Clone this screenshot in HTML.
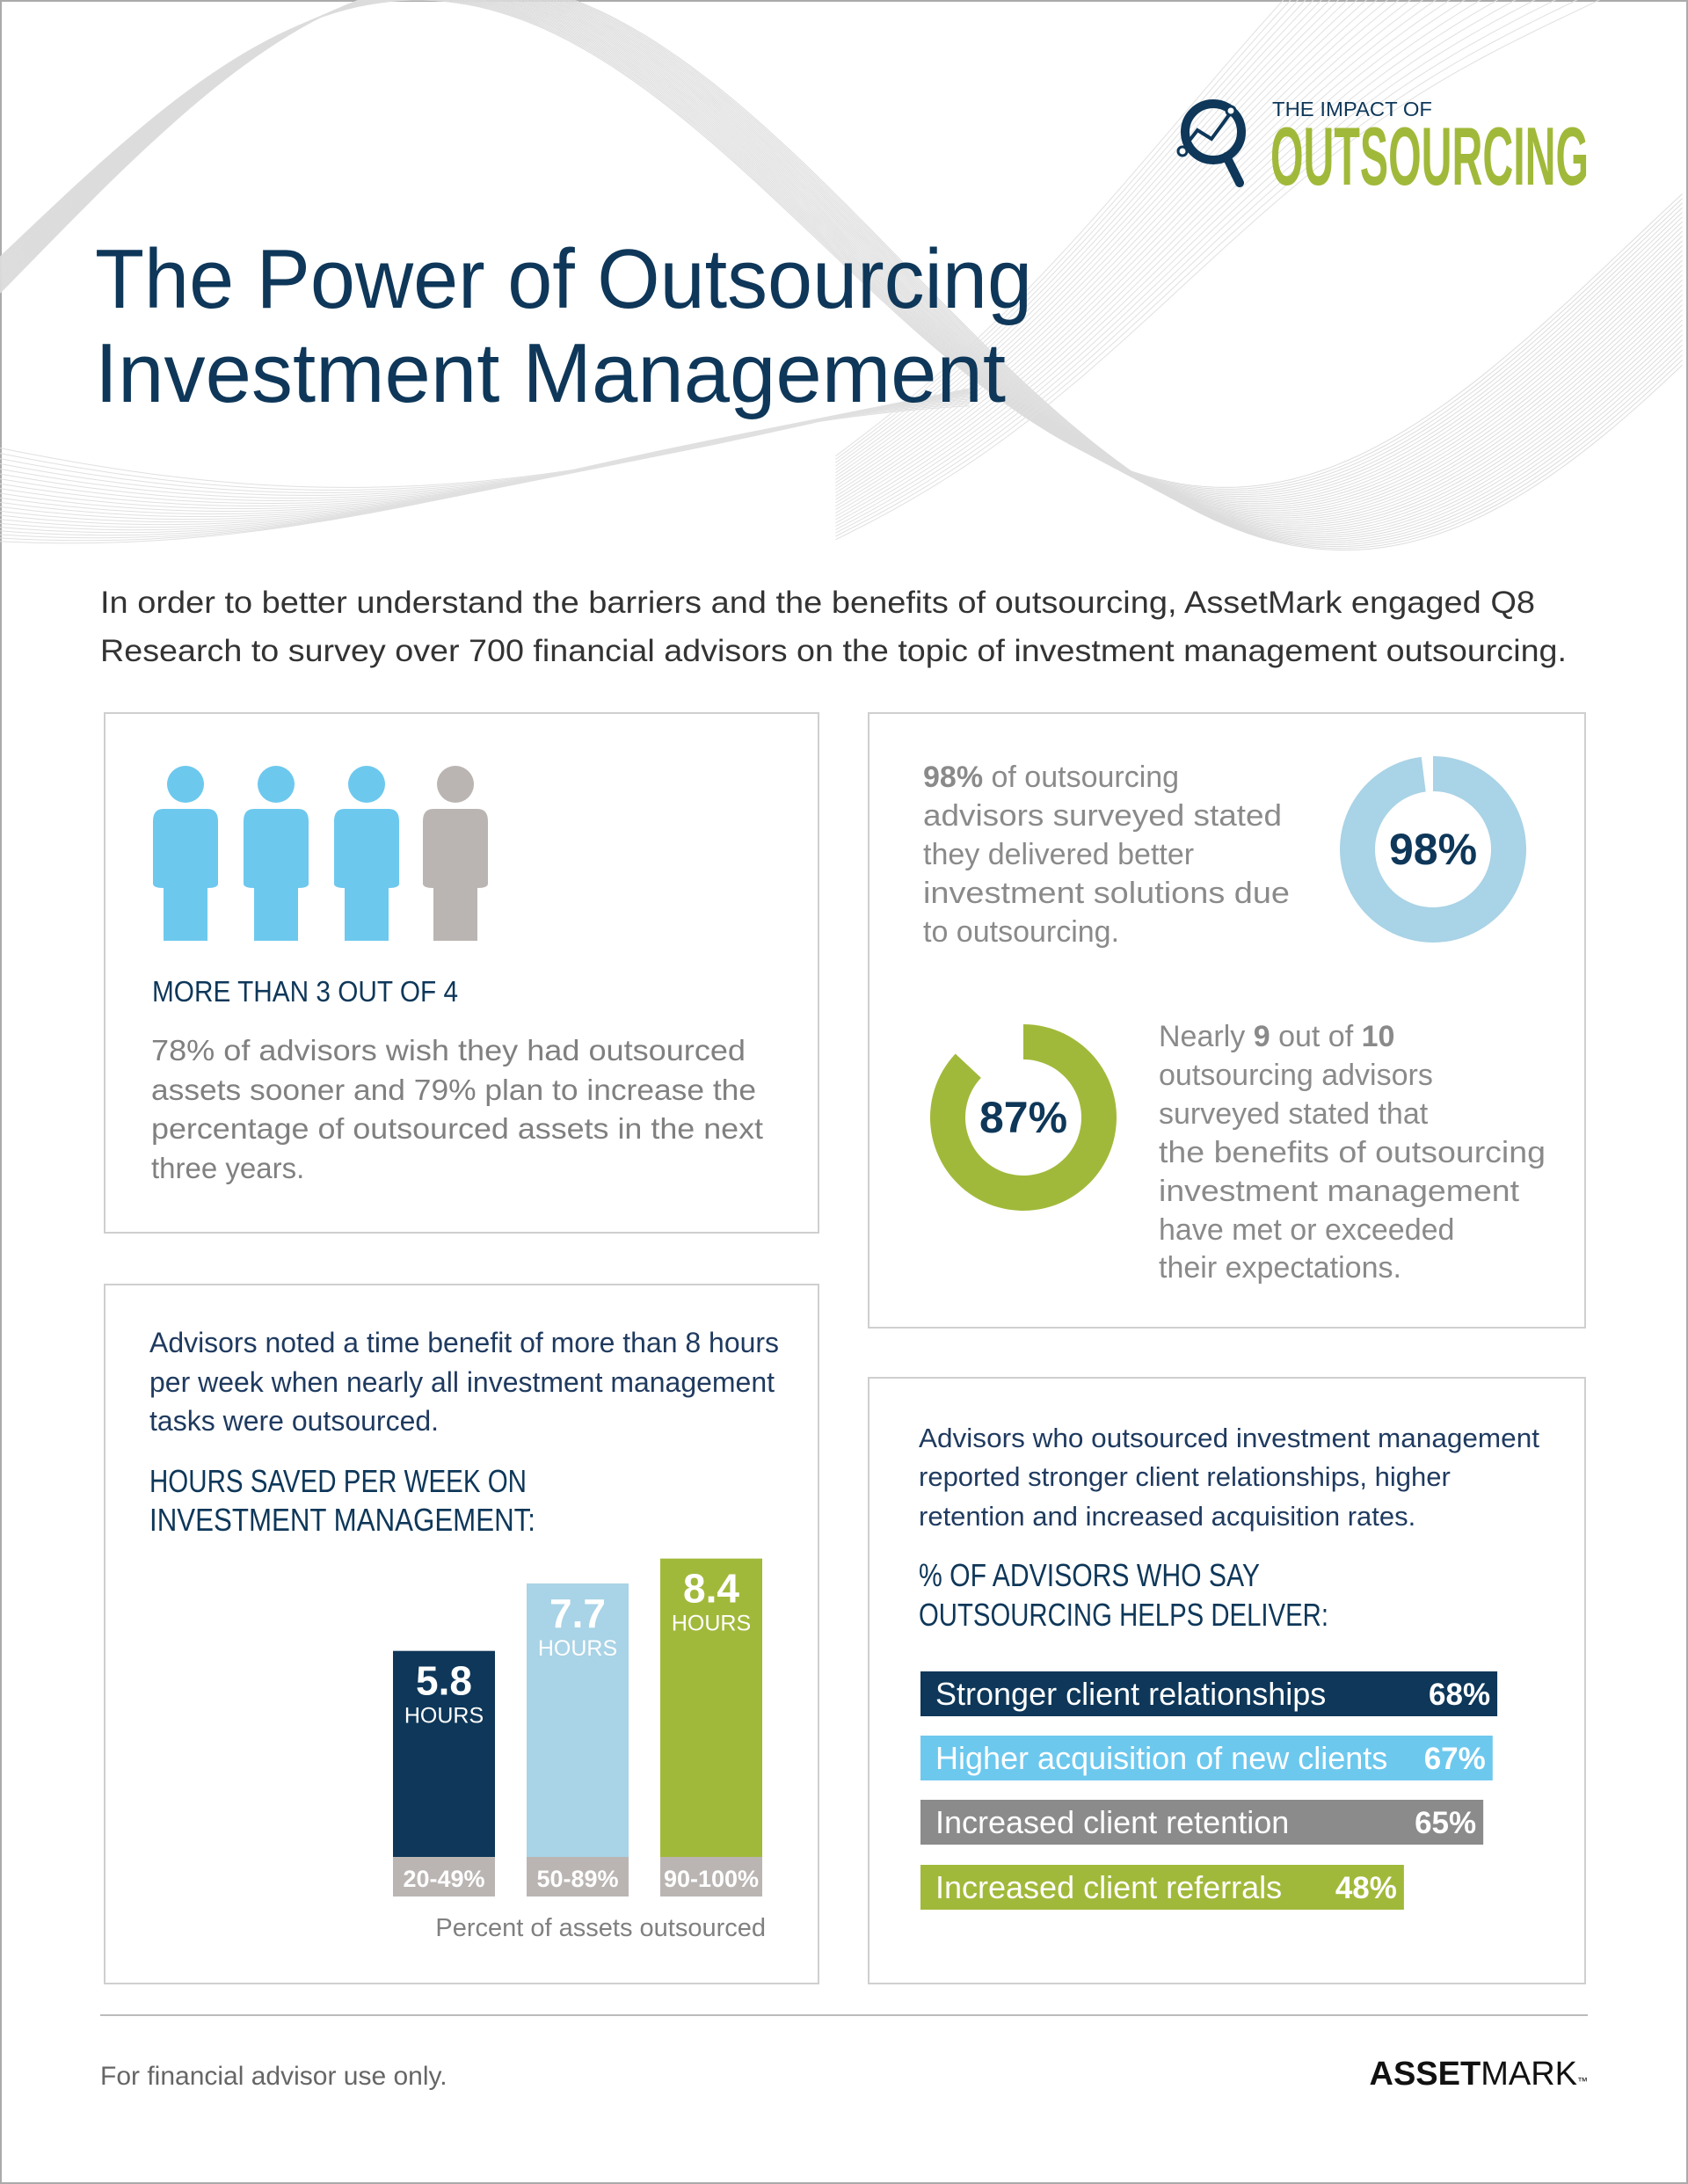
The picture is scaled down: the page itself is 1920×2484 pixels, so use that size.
<!DOCTYPE html>
<html><head><meta charset="utf-8">
<style>
html,body{margin:0;padding:0;background:#fff;}
svg{display:block;}
text{font-family:"Liberation Sans",sans-serif;}
</style></head>
<body>
<svg id="page" width="1920" height="2484" viewBox="0 0 1920 2484" xmlns="http://www.w3.org/2000/svg">
<rect x="1" y="1" width="1918" height="2482" fill="#fff" stroke="#aaa" stroke-width="2"/>
<g id="waves"></g>

<!-- logo -->
<g>
  <circle cx="1380" cy="150" r="32" fill="none" stroke="#0e3759" stroke-width="10"/>
  <line x1="1395" y1="178" x2="1410" y2="208" stroke="#0e3759" stroke-width="10" stroke-linecap="round"/>
  <polyline points="1345,170 1362,148 1378,158 1400,128" fill="none" stroke="#0e3759" stroke-width="4"/>
  <circle cx="1345" cy="172" r="5" fill="#fff" stroke="#0e3759" stroke-width="3"/>
  <circle cx="1400" cy="126" r="5" fill="#fff" stroke="#0e3759" stroke-width="3"/>
  <text x="1447" y="132" font-size="23" fill="#0e3759" textLength="182" lengthAdjust="spacingAndGlyphs">THE IMPACT OF</text>
  <text x="1445" y="210" font-size="94" font-weight="bold" fill="#a1b93a" textLength="362" lengthAdjust="spacingAndGlyphs">OUTSOURCING</text>
</g>

<text x="108" y="350" font-size="96" fill="#0e3759" textLength="1066" lengthAdjust="spacingAndGlyphs">The Power of Outsourcing</text>
<text x="108" y="457" font-size="96" fill="#0e3759" textLength="1036" lengthAdjust="spacingAndGlyphs">Investment Management</text>

<g fill="#333" font-size="35">
<text x="114" y="697" textLength="1632" lengthAdjust="spacingAndGlyphs">In order to better understand the barriers and the benefits of outsourcing, AssetMark engaged Q8</text>
<text x="114" y="752" textLength="1668" lengthAdjust="spacingAndGlyphs">Research to survey over 700 financial advisors on the topic of investment management outsourcing.</text>
</g>

<!-- boxes -->
<rect x="119" y="811" width="812" height="591" fill="#fff" stroke="#cfcfcf" stroke-width="2"/>
<rect x="988" y="811" width="815" height="699" fill="#fff" stroke="#cfcfcf" stroke-width="2"/>
<rect x="119" y="1461" width="812" height="795" fill="#fff" stroke="#cfcfcf" stroke-width="2"/>
<rect x="988" y="1567" width="815" height="689" fill="#fff" stroke="#cfcfcf" stroke-width="2"/>

<defs>
 <clipPath id="halfL"><rect x="480" y="860" width="37" height="220"/></clipPath>
 <g id="person">
  <circle cx="37" cy="32" r="21"/>
  <path d="M12,60 Q0,60 0,74 L0,145 Q0,150 12,150 L12,210 L62,210 L62,150 Q74,150 74,145 L74,74 Q74,60 62,60 Z"/>
 </g>
</defs>
<g>
 <use href="#person" x="174" y="860" fill="#6dc8ee"/>
 <use href="#person" x="277" y="860" fill="#6dc8ee"/>
 <use href="#person" x="380" y="860" fill="#6dc8ee"/>
 <use href="#person" x="481" y="860" fill="#bab5b3"/>
 <use href="#person" x="481" y="860" fill="#6dc8ee" clip-path="url(#halfL)"/>
</g>
<text x="173" y="1139" font-size="33" fill="#0e3759" textLength="348" lengthAdjust="spacingAndGlyphs">MORE THAN 3 OUT OF 4</text>
<g font-size="33" fill="#808080">
<text x="172" y="1206" textLength="676" lengthAdjust="spacingAndGlyphs">78% of advisors wish they had outsourced</text>
<text x="172" y="1251" textLength="688" lengthAdjust="spacingAndGlyphs">assets sooner and 79% plan to increase the</text>
<text x="172" y="1295" textLength="696" lengthAdjust="spacingAndGlyphs">percentage of outsourced assets in the next</text>
<text x="172" y="1340">three years.</text>
</g>

<!-- donut text -->
<g font-size="34" fill="#8a8a8a">
<text x="1050" y="895"><tspan font-weight="bold">98%</tspan> of outsourcing</text>
<text x="1050" y="939" textLength="408" lengthAdjust="spacingAndGlyphs">advisors surveyed stated</text>
<text x="1050" y="983">they delivered better</text>
<text x="1050" y="1027" textLength="417" lengthAdjust="spacingAndGlyphs">investment solutions due</text>
<text x="1050" y="1071">to outsourcing.</text>
</g>
<g font-size="34" fill="#8a8a8a">
<text x="1318" y="1190">Nearly <tspan font-weight="bold">9</tspan> out of <tspan font-weight="bold">10</tspan></text>
<text x="1318" y="1234">outsourcing advisors</text>
<text x="1318" y="1278">surveyed stated that</text>
<text x="1318" y="1322" textLength="440" lengthAdjust="spacingAndGlyphs">the benefits of outsourcing</text>
<text x="1318" y="1366" textLength="410" lengthAdjust="spacingAndGlyphs">investment management</text>
<text x="1318" y="1410">have met or exceeded</text>
<text x="1318" y="1453">their expectations.</text>
</g>
<g id="donuts"></g>

<!-- hours card -->
<g font-size="32" fill="#1f3a5f">
<text x="170" y="1538" textLength="716" lengthAdjust="spacingAndGlyphs">Advisors noted a time benefit of more than 8 hours</text>
<text x="170" y="1583" textLength="711" lengthAdjust="spacingAndGlyphs">per week when nearly all investment management</text>
<text x="170" y="1627">tasks were outsourced.</text>
</g>
<g font-size="36" fill="#0e3759">
<text x="170" y="1697" textLength="429" lengthAdjust="spacingAndGlyphs">HOURS SAVED PER WEEK ON</text>
<text x="170" y="1741" textLength="439" lengthAdjust="spacingAndGlyphs">INVESTMENT MANAGEMENT:</text>
</g>
<g id="hoursChart"></g>
<text x="871" y="2202" font-size="29" fill="#808080" text-anchor="end">Percent of assets outsourced</text>

<!-- benefits card -->
<g font-size="31" fill="#1f3a5f">
<text x="1045" y="1646" textLength="706" lengthAdjust="spacingAndGlyphs">Advisors who outsourced investment management</text>
<text x="1045" y="1690">reported stronger client relationships, higher</text>
<text x="1045" y="1735">retention and increased acquisition rates.</text>
</g>
<g font-size="36" fill="#0e3759">
<text x="1045" y="1804" textLength="388" lengthAdjust="spacingAndGlyphs">% OF ADVISORS WHO SAY</text>
<text x="1045" y="1849" textLength="466" lengthAdjust="spacingAndGlyphs">OUTSOURCING HELPS DELIVER:</text>
</g>
<g id="benefitChart"></g>

<line x1="114" y1="2292" x2="1806" y2="2292" stroke="#bbb" stroke-width="2"/>
<text x="114" y="2371" font-size="30" fill="#666">For financial advisor use only.</text>
<text x="1806" y="2371" font-size="38" fill="#111" text-anchor="end"><tspan font-weight="bold">ASSET</tspan>MARK<tspan font-size="12">™</tspan></text>
</svg>

<script>
const NS = "http://www.w3.org/2000/svg";
// hours chart data
const hourCats = ["20-49%", "50-89%", "90-100%"];
const hourVals = [5.8, 7.7, 8.4];
// benefits chart data
const benefitLabels = ["Stronger client relationships", "Higher acquisition of new clients", "Increased client retention", "Increased client referrals"];
const benefitVals = [68, 67, 65, 48];
// donut data
const donutVals = [98, 87];

function mk(tag, attrs, parent) {
  const e = document.createElementNS(NS, tag);
  for (const k in attrs) e.setAttribute(k, attrs[k]);
  parent.appendChild(e);
  return e;
}

// waves (decorative)
(function () {
  const g = document.getElementById('waves');
  const S = 1.584;
  function addLine(fn, x0, x1, col) {
    let d = "";
    for (let x = x0; x <= x1; x += 8) {
      const y = fn(x);
      d += (x === x0 ? "M" : "L") + (x * S).toFixed(1) + "," + (y * S).toFixed(1);
    }
    const p = mk('path', { d: d, fill: "none", stroke: col, "stroke-width": 1 }, g);
    
    
  }
  for (let i = 0; i < 36; i++) {
    const t = i / 35;
    const amp = 175 + 30 * t, mid = 175 + 15 * t, ph = 590 + 60 * t, per = 580 + 50 * t;
    addLine(x => mid + amp * Math.sin(Math.PI * (x - ph) / per), 0, 1212, "#dcdcdc");
  }
  for (let i = 0; i < 22; i++) {
    const t = i / 21;
    addLine(x => 300 + 40 * t + 50 * Math.sin(Math.PI * (x + 100 + 200 * t) / 700), 0, 700, "#e0e0e0");
  }
  for (let i = 0; i < 26; i++) {
    const t = i / 25;
    addLine(x => 380 - (x - 600) * (0.7 + 0.25 * t) + 20 * Math.sin(x / 90) - 60 * t, 600, 1212, "#e0e0e0");
  }
})();

// donuts
(function () {
  const g = document.getElementById('donuts');
  const cfg = [
    { cx: 1630, cy: 966, ro: 106, ri: 66, color: "#a9d3e6" },
    { cx: 1164, cy: 1271, ro: 106, ri: 66, color: "#a1b93a" }
  ];
  function arcPath(c, v) {
    const a0 = 0, a1 = 2 * Math.PI * v / 100;
    const pt = (r, a) => [c.cx + r * Math.sin(a), c.cy - r * Math.cos(a)];
    const large = a1 - a0 > Math.PI ? 1 : 0;
    const [x1, y1] = pt(c.ro, a0), [x2, y2] = pt(c.ro, a1), [x3, y3] = pt(c.ri, a1), [x4, y4] = pt(c.ri, a0);
    return `M${x1},${y1} A${c.ro},${c.ro} 0 ${large} 1 ${x2},${y2} L${x3},${y3} A${c.ri},${c.ri} 0 ${large} 0 ${x4},${y4} Z`;
  }
  donutVals.forEach((v, i) => {
    const c = cfg[i];
    const p = mk('path', { d: arcPath(c, v), fill: c.color }, g);
    
    
    const t = mk('text', { x: c.cx, y: c.cy + 17, "font-size": 50, "font-weight": "bold", fill: "#0e3759", "text-anchor": "middle" }, g);
    t.textContent = v + "%";
    
    
  });
})();

// hours bar chart
(function () {
  const g = document.getElementById('hoursChart');
  const baseY = 2112, pxPerHour = 40.4;
  const xs = [447, 599, 751], w = 116;
  const colors = ["#0e3759", "#a9d3e6", "#a1b93a"];
  const yScale = v => baseY - v * pxPerHour;
  hourCats.forEach((c, i) => {
    const top = yScale(hourVals[i]);
    const r = mk('rect', { x: xs[i], y: top, width: w, height: baseY - top, fill: colors[i] }, g);
    
    
    const v = mk('text', { x: xs[i] + w / 2, y: top + 50, "font-size": 46, "font-weight": "bold", fill: "#fff", "text-anchor": "middle" }, g);
    v.textContent = hourVals[i];
    
    
    const h = mk('text', { x: xs[i] + w / 2, y: top + 82, "font-size": 25, fill: "#fff", "text-anchor": "middle" }, g);
    h.textContent = "HOURS";
    
    
    const lb = mk('rect', { x: xs[i], y: baseY, width: w, height: 45, fill: "#bab5b3" }, g);
    
    
    const lt = mk('text', { x: xs[i] + w / 2, y: baseY + 34, "font-size": 27, "font-weight": "bold", fill: "#fff", "text-anchor": "middle" }, g);
    lt.textContent = c;
    
    
  });
})();

// benefits bar chart
(function () {
  const g = document.getElementById('benefitChart');
  const x0 = 1047, offset = 295, pxPer = 5.31;
  const ys = [1901, 1974, 2047, 2121], h = 51;
  const colors = ["#0e3759", "#6dc8ee", "#8b8b8b", "#a1b93a"];
  const wScale = v => offset + v * pxPer;
  benefitLabels.forEach((lab, i) => {
    const w = wScale(benefitVals[i]);
    const r = mk('rect', { x: x0, y: ys[i], width: w, height: h, fill: colors[i] }, g);
    
    
    const t = mk('text', { x: x0 + 17, y: ys[i] + 38, "font-size": 36, fill: "#fff" }, g);
    t.textContent = lab;
    
    
    const v = mk('text', { x: x0 + w - 8, y: ys[i] + 38, "font-size": 35, "font-weight": "bold", fill: "#fff", "text-anchor": "end" }, g);
    v.textContent = benefitVals[i] + "%";
    
    
  });
})();
</script>
</body></html>
